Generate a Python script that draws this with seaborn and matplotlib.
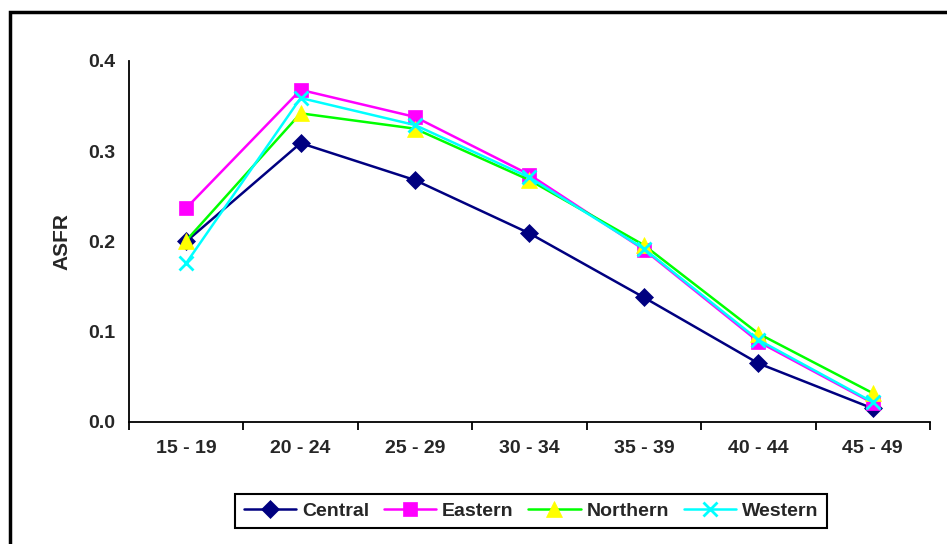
import matplotlib
matplotlib.use("Agg")
import matplotlib.pyplot as plt
import matplotlib.patches as mpatches
from matplotlib.ticker import FixedLocator, FormatStrFormatter
import pandas as pd
import seaborn as sns

# данные
age_groups = ["15 - 19", "20 - 24", "25 - 29", "30 - 34", "35 - 39", "40 - 44", "45 - 49"]
central = [0.200, 0.309, 0.268, 0.209, 0.138, 0.065, 0.015]
eastern = [0.237, 0.368, 0.338, 0.274, 0.191, 0.089, 0.021]
northern = [0.201, 0.342, 0.325, 0.268, 0.196, 0.098, 0.032]
western = [0.176, 0.359, 0.329, 0.271, 0.192, 0.091, 0.022]

sns.set_style("white")
plt.rcParams["font.family"] = ["Liberation Sans", "DejaVu Sans"]
plt.rcParams["font.weight"] = "bold"

fig = plt.figure(figsize=(9.47, 5.44), dpi=100)
ax = fig.add_axes([0.1362, 0.2243, 0.982 - 0.1362, 0.8879 - 0.2243])

series = [
    ("Central", central, "#000080", "#000080", "D", 9),
    ("Eastern", eastern, "#FF00FF", "#FF00FF", "s", 10),
    ("Northern", northern, "#00FF00", "#FFFF00", "^", 11),
    ("Western", western, "#00FFFF", "#00FFFF", "x", 10),
]

for name, vals, line_col, mark_col, mk, ms in series:
    df = pd.DataFrame({"age": age_groups, "asfr": vals})
    sns.lineplot(data=df, x="age", y="asfr", ax=ax, color=line_col,
                 marker=mk, markersize=ms, markerfacecolor=mark_col,
                 markeredgecolor=mark_col, markeredgewidth=2 if mk == "x" else 0.5,
                 linewidth=1.8, label=name, legend=False)

ax.set_xlim(-0.5, len(age_groups) - 0.5)
ax.set_ylim(0, 0.4)
ax.set_yticks([0.0, 0.1, 0.2, 0.3, 0.4])
ax.yaxis.set_major_formatter(FormatStrFormatter("%.1f"))
ax.set_xticks(range(len(age_groups)))
ax.set_xticklabels(age_groups)
ax.xaxis.set_minor_locator(FixedLocator([i - 0.5 for i in range(len(age_groups) + 1)]))
ax.tick_params(axis="x", which="major", length=0, pad=13, labelsize=14)
ax.tick_params(axis="x", which="minor", length=6, width=1.3, color="black", direction="out")
ax.tick_params(axis="y", length=6, width=1.3, color="black", direction="out", labelsize=14, pad=4)
ax.xaxis.set_tick_params(which="minor", bottom=True)
for lab in ax.get_xticklabels() + ax.get_yticklabels():
    lab.set_fontweight("bold")

ax.set_xlabel("")
ax.set_ylabel("ASFR", fontsize=15, fontweight="bold", labelpad=12)
sns.despine(ax=ax)
for s in ["left", "bottom"]:
    ax.spines[s].set_linewidth(1.3)
    ax.spines[s].set_color("black")

handles, labels = ax.get_legend_handles_labels()
leg = fig.legend(handles, labels, loc="center", bbox_to_anchor=(0.5607, 0.0607),
                 ncol=4, frameon=True, fancybox=False, framealpha=1,
                 edgecolor="black", fontsize=14, handlelength=2.7,
                 handletextpad=0.3, columnspacing=0.75, borderpad=0.42)
leg.get_frame().set_linewidth(1.5)
for t in leg.get_texts():
    t.set_fontweight("bold")

# внешняя рамка
frame = mpatches.Rectangle((10 / 947, -0.1), 1.2, 1 - 12.5 / 544 + 0.1,
                           transform=fig.transFigure, fill=False,
                           edgecolor="black", linewidth=2.5, clip_on=False)
fig.patches.append(frame)

fig.savefig("out.png", dpi=100)
